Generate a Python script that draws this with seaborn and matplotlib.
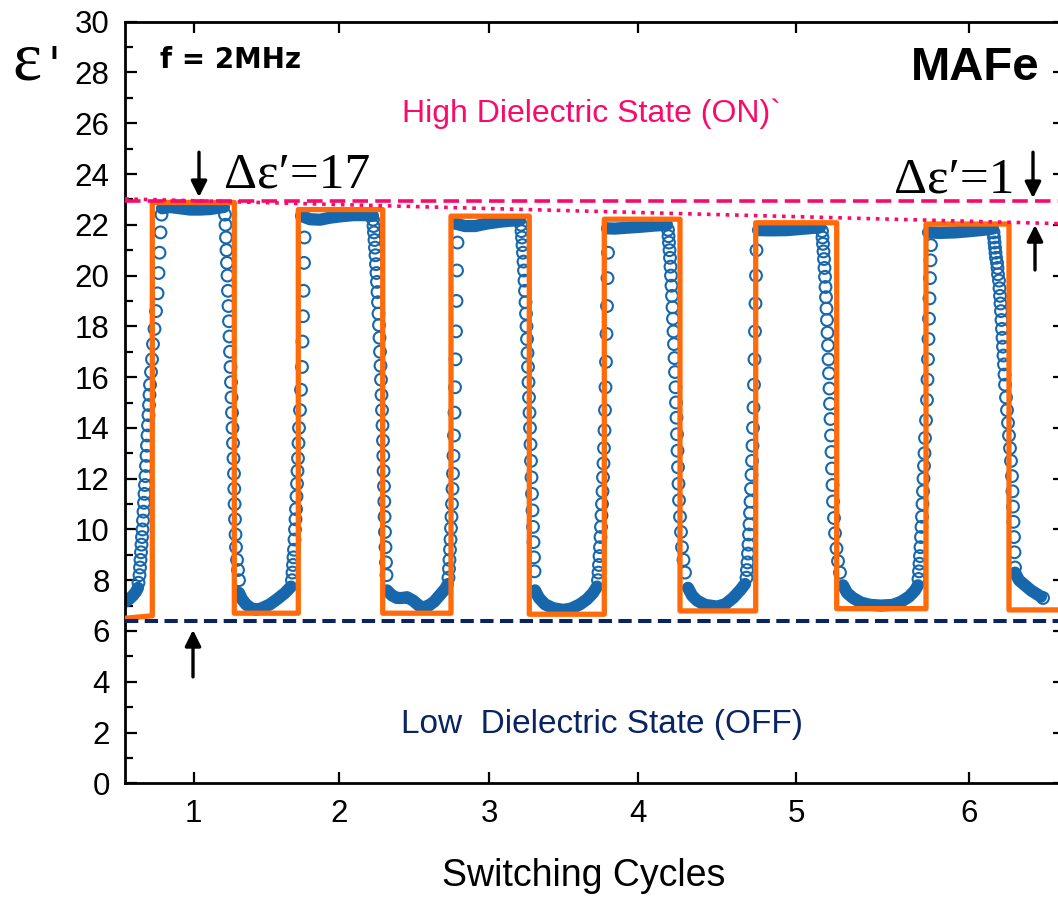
import numpy as np
import pandas as pd
import matplotlib
matplotlib.use("Agg")
import matplotlib.pyplot as plt
from matplotlib.ticker import MultipleLocator
import seaborn as sns

# ---------------- data ----------------
# time axis in arbitrary units; the cycle number sits at the middle of each ON pulse
cycle_labels = ["1", "2", "3", "4", "5", "6"]
cycle_centre_t = [68.6, 214.4, 364.2, 512.6, 671.2, 844.0]

# idealised square-wave (orange)
square_t = [0, 27.3, 27.3, 109.3, 109.3, 173.3, 173.3, 257.7, 257.7, 326, 326, 404.3, 404.3,
            479.3, 479.3, 555, 555, 630.7, 630.7, 711.7, 711.7, 801, 801, 884, 884, 940]
square_y = [6.5, 6.6, 22.88, 22.88, 6.70, 6.70, 22.6, 22.6, 6.70, 6.70, 22.34, 22.34, 6.66,
            6.66, 22.22, 22.22, 6.79, 6.79, 22.08, 22.08, 6.88, 6.88, 22.03, 22.03, 6.83, 6.83]

# reference levels
on_level_t, on_level_y = [0, 940], [22.95, 22.95]
drift_t, drift_y = [0, 940], [23.02, 22.04]
off_level_t, off_level_y = [0, 940], [6.40, 6.40]

# densely sampled stretches of the measured curve (plateaus / troughs)
start_t = [0, 4, 8, 11, 13]
start_y = [7.15, 7.25, 7.4, 7.55, 7.7]
top1_t = [37, 45, 55, 65, 75, 85, 95, 99]
top1_y = [22.65, 22.7, 22.65, 22.6, 22.6, 22.62, 22.68, 22.7]
trough1_t = [114, 117, 121, 126, 131, 137, 145, 152, 160, 166]
trough1_y = [7.5, 7.25, 7.05, 6.9, 6.83, 6.9, 7.05, 7.25, 7.5, 7.75]
top2_t = [176, 185, 195, 205, 215, 228, 240, 248]
top2_y = [22.35, 22.22, 22.2, 22.28, 22.33, 22.38, 22.38, 22.35]
trough2_t = [262, 267, 272, 277, 282, 288, 294, 297, 303, 309, 315, 320, 323]
trough2_y = [7.6, 7.4, 7.3, 7.3, 7.33, 7.2, 7.0, 6.93, 6.98, 7.15, 7.42, 7.65, 7.85]
top3_t = [330, 340, 350, 362, 375, 385, 395]
top3_y = [22.05, 21.95, 21.95, 22.05, 22.12, 22.16, 22.18]
trough3_t = [410, 414, 420, 428, 438, 446, 455, 462, 468, 472]
trough3_y = [7.6, 7.3, 7.05, 6.9, 6.83, 6.88, 7.05, 7.25, 7.5, 7.75]
top4_t = [482, 490, 500, 515, 530, 542]
top4_y = [21.86, 21.85, 21.88, 21.92, 21.97, 22.0]
trough4_t = [563, 567, 572, 580, 592, 600, 608, 615, 620]
trough4_y = [7.7, 7.4, 7.2, 7.03, 6.96, 7.05, 7.3, 7.6, 7.85]
top5_t = [633, 645, 662, 680, 695]
top5_y = [21.79, 21.78, 21.79, 21.85, 21.9]
trough5_t = [718, 722, 728, 736, 745, 756, 768, 776, 784, 790, 793]
trough5_y = [7.8, 7.5, 7.3, 7.12, 7.03, 7.0, 7.03, 7.15, 7.35, 7.6, 7.8]
top6_t = [803, 815, 830, 845, 858, 868]
top6_y = [21.7, 21.68, 21.7, 21.75, 21.8, 21.85]
tail_t = [890, 894, 900, 906, 912, 916]
tail_y = [8.3, 8.0, 7.8, 7.6, 7.45, 7.35]

# individually resolved points on the switching edges
rise1_t = [13.5, 14.5, 15, 15.5, 16, 16.5, 17, 17.5, 18, 18.5, 19, 19.5, 20, 20.5, 21, 21.5, 22,
           22.5, 23, 23.5, 24, 24.5, 25, 26, 27, 28, 29.5, 31, 32.5, 33.5, 34.5, 35.5, 36.5]
rise1_y = [7.9, 8.2, 8.5, 8.8, 9.1, 9.4, 9.7, 10.0, 10.35, 10.7, 11.05, 11.4, 11.75, 12.1, 12.5,
           12.9, 13.3, 13.7, 14.1, 14.5, 14.9, 15.3, 15.7, 16.2, 16.7, 17.3, 17.9, 18.6, 19.3,
           20.1, 20.9, 21.7, 22.4]
fall1_t = [100, 100.5, 101, 101.5, 102, 102.5, 103, 103.5, 104, 104.5, 105, 105.5, 106, 106.5,
           107, 107.5, 108, 108.5, 109, 109.3, 109.6, 110, 110.5, 111, 112, 113, 114]
fall1_y = [22.4, 22.0, 21.5, 21.0, 20.5, 20.0, 19.4, 18.8, 18.2, 17.6, 17.0, 16.4, 15.8, 15.2,
           14.6, 14.0, 13.4, 12.8, 12.2, 11.6, 11.0, 10.4, 9.8, 9.3, 8.8, 8.4, 8.0]
rise2_t = [167, 167.5, 168, 168.5, 169, 169.5, 170, 170.5, 171, 171.5, 172, 172.5, 173, 173.5,
           174, 175, 176, 177, 177.5, 178, 178.5, 179, 179.5]
rise2_y = [8.0, 8.3, 8.6, 8.9, 9.2, 9.6, 10.0, 10.4, 10.8, 11.3, 11.8, 12.3, 12.8, 13.4, 14.0,
           14.7, 15.5, 16.4, 17.4, 18.4, 19.4, 20.5, 21.5]
fall2_t = [248, 248.5, 249, 249.5, 250, 250.5, 251, 251.5, 252, 252.5, 253, 253.5, 254, 254.5,
           255, 255.5, 256, 256.5, 257, 257.5, 258, 258.3, 258.6, 259, 259.3, 259.6, 260, 260.5,
           261, 261.5]
fall2_y = [22.2, 21.95, 21.7, 21.4, 21.1, 20.8, 20.45, 20.1, 19.75, 19.35, 18.95, 18.5, 18.05,
           17.55, 17.0, 16.45, 15.9, 15.3, 14.7, 14.1, 13.5, 12.9, 12.3, 11.7, 11.1, 10.5, 9.9,
           9.3, 8.7, 8.2]
rise3_t = [323.5, 324, 324.5, 325, 325.5, 326, 326.5, 327, 327.5, 328, 328.5, 329, 329.5, 330,
           330.5, 331, 331.5, 332, 332.5]
rise3_y = [8.1, 8.45, 8.8, 9.2, 9.6, 10.05, 10.5, 11.0, 11.6, 12.2, 12.9, 13.7, 14.6, 15.6, 16.7,
           17.8, 19.0, 20.2, 21.3]
fall3_t = [396, 396.5, 397, 397.5, 398, 398.5, 399, 399.5, 400, 400.5, 401, 401.5, 402, 402.5,
           403, 403.5, 404, 404.5, 405, 405.5, 406, 406.5, 407, 407.5, 408, 408.5, 409, 409.5]
fall3_y = [22.0, 21.75, 21.5, 21.2, 20.9, 20.55, 20.2, 19.8, 19.4, 18.95, 18.5, 18.0, 17.5, 16.95,
           16.4, 15.8, 15.2, 14.6, 14.0, 13.35, 12.7, 12.05, 11.4, 10.75, 10.1, 9.5, 8.9, 8.35]
rise4_t = [473, 473.5, 474, 474.5, 475, 475.5, 476, 476.5, 477, 477.5, 478, 478.5, 479, 479.5,
           480, 480.5, 481, 481.5, 482, 482.5, 483]
rise4_y = [8.0, 8.3, 8.6, 8.95, 9.3, 9.7, 10.1, 10.55, 11.0, 11.5, 12.05, 12.6, 13.2, 13.9, 14.7,
           15.6, 16.6, 17.7, 18.8, 19.9, 20.9]
fall4_t = [543, 543.5, 544, 544.5, 545, 545.5, 546, 546.5, 547, 547.5, 548, 548.5, 549, 549.5,
           550, 550.5, 551, 551.5, 552, 552.5, 553, 553.5, 554, 555, 556, 557, 558.5, 560]
fall4_y = [21.8, 21.55, 21.3, 21.0, 20.7, 20.35, 20.0, 19.6, 19.2, 18.75, 18.3, 17.8, 17.3, 16.75,
           16.2, 15.6, 15.0, 14.4, 13.75, 13.1, 12.45, 11.8, 11.15, 10.5, 9.9, 9.3, 8.8, 8.3]
rise5_t = [621.5, 622, 622.5, 623, 623.5, 624, 624.5, 625, 625.5, 626, 626.5, 627, 627.5, 628,
           628.5, 629, 629.5, 630, 630.5, 631, 631.5]
rise5_y = [8.1, 8.4, 8.7, 9.05, 9.4, 9.8, 10.2, 10.65, 11.1, 11.6, 12.15, 12.7, 13.3, 14.0, 14.8,
           15.7, 16.7, 17.8, 18.9, 20.0, 21.0]
fall5_t = [697, 697.5, 698, 698.5, 699, 699.5, 700, 700.5, 701, 701.5, 702, 702.5, 703, 703.5,
           704, 704.5, 705, 705.5, 706, 706.5, 707, 707.5, 708, 709, 710, 711.5, 713, 715]
fall5_y = [21.75, 21.5, 21.25, 20.95, 20.65, 20.3, 19.95, 19.55, 19.15, 18.7, 18.25, 17.75, 17.25,
           16.7, 16.15, 15.55, 14.95, 14.35, 13.7, 13.05, 12.4, 11.75, 11.1, 10.45, 9.85, 9.25,
           8.75, 8.3]
rise6_t = [793.5, 794, 794.5, 795, 795.5, 796, 796.5, 797, 797.5, 798, 798.5, 799, 799.5, 800,
           801, 802, 802.5, 803, 803.5, 804, 804.5, 805, 805.5, 806]
rise6_y = [8.05, 8.35, 8.65, 8.95, 9.3, 9.7, 10.1, 10.5, 11.0, 11.5, 12.0, 12.5, 13.0, 13.6, 14.3,
           15.1, 15.9, 16.7, 17.5, 18.3, 19.1, 19.9, 20.6, 21.2]
fall6_t = [868.5, 869, 869.5, 870, 870.5, 871, 872, 872.5, 873, 874, 874.5, 875, 875.5, 876,
           876.5, 877, 877.5, 878, 878.5, 879, 879.5, 880, 881, 882, 883, 884, 885, 886, 887,
           887.5, 888, 888.5, 889, 889.5, 890]
fall6_y = [21.7, 21.5, 21.3, 21.1, 20.9, 20.7, 20.5, 20.3, 20.05, 19.8, 19.5, 19.2, 18.9, 18.6,
           18.25, 17.9, 17.55, 17.2, 16.85, 16.5, 16.1, 15.7, 15.2, 14.7, 14.2, 13.7, 13.2, 12.7,
           12.1, 11.5, 10.9, 10.3, 9.7, 9.1, 8.5]
last_t, last_y = [918], [7.3]

# ---------------- assemble ----------------
bands = [(start_t, start_y), (top1_t, top1_y), (trough1_t, trough1_y), (top2_t, top2_y),
         (trough2_t, trough2_y), (top3_t, top3_y), (trough3_t, trough3_y), (top4_t, top4_y),
         (trough4_t, trough4_y), (top5_t, top5_y), (trough5_t, trough5_y), (top6_t, top6_y),
         (tail_t, tail_y)]
edges = [(rise1_t, rise1_y), (fall1_t, fall1_y), (rise2_t, rise2_y), (fall2_t, fall2_y),
         (rise3_t, rise3_y), (fall3_t, fall3_y), (rise4_t, rise4_y), (fall4_t, fall4_y),
         (rise5_t, rise5_y), (fall5_t, fall5_y), (rise6_t, rise6_y), (fall6_t, fall6_y),
         (last_t, last_y)]
for t, y in bands + edges:
    assert len(t) == len(y)

band_df = pd.concat([pd.DataFrame({"t": t, "eps": y, "seg": i}) for i, (t, y) in enumerate(bands)],
                    ignore_index=True)
edge_df = pd.concat([pd.DataFrame({"t": t, "eps": y}) for t, y in edges], ignore_index=True)
square_df = pd.DataFrame({"t": square_t, "eps": square_y})

BLUE = "#1767ad"
ORANGE = "#ff6a0a"
PINK = "#fa0a6a"
NAVY = "#0a2463"

# ---------------- figure ----------------
sns.set_style("ticks")
plt.rcParams["font.family"] = ["Liberation Sans", "DejaVu Sans"]
plt.rcParams["text.color"] = "black"
plt.rcParams["axes.labelcolor"] = "black"
plt.rcParams["xtick.color"] = "black"
plt.rcParams["ytick.color"] = "black"

fig = plt.figure(figsize=(10.58, 8.98), dpi=100)
ax = fig.add_axes([125 / 1058, 114.7 / 898, 940 / 1058, 761.6 / 898])

sns.lineplot(data=band_df, x="t", y="eps", units="seg", estimator=None, sort=False,
             color=BLUE, lw=8.8, solid_capstyle="round", ax=ax, legend=False, zorder=2)
sns.scatterplot(data=edge_df, x="t", y="eps", marker="o", s=72, color=BLUE,
                facecolor="none", edgecolor=BLUE, linewidth=1.5, ax=ax, legend=False, zorder=2)
sns.lineplot(data=square_df, x="t", y="eps", estimator=None, sort=False, color=ORANGE,
             lw=3.8, ax=ax, zorder=3)
sns.lineplot(x=on_level_t, y=on_level_y, color=PINK, lw=2.6, ax=ax, zorder=4,
             linestyle=(0, (4.3, 2.0)))
sns.lineplot(x=drift_t, y=drift_y, color=PINK, lw=2.6, ax=ax, zorder=4,
             linestyle=(0, (1.0, 1.6)))
sns.lineplot(x=off_level_t, y=off_level_y, color=NAVY, lw=2.9, ax=ax, zorder=4,
             linestyle=(0, (3.3, 1.6)))

ax.set_xlim(0, 940)
ax.set_ylim(0, 30)
ax.set_xticks(cycle_centre_t)
ax.set_xticklabels(cycle_labels)
ax.yaxis.set_major_locator(MultipleLocator(2))
ax.yaxis.set_minor_locator(MultipleLocator(1))
ax.tick_params(axis="y", which="major", direction="in", length=8.6, width=1.6,
               labelsize=22.5, pad=11, left=True, right=True, colors="black")
ax.tick_params(axis="y", which="minor", direction="in", length=5.8, width=1.6,
               left=True, right=False, colors="black")
ax.tick_params(axis="x", which="major", direction="in", length=7.6, width=1.6,
               labelsize=22.5, pad=11, top=True, bottom=True, colors="black")
for s in ax.spines.values():
    s.set_linewidth(2.0)
    s.set_color("black")
    s.set_visible(True)

ax.set_ylabel("")
ax.set_xlabel("Switching Cycles", fontsize=27, color="black")
ax.xaxis.set_label_coords(0.4877, -0.098)

# annotations
ax.text(35, 28.17, "f = 2MHz", fontsize=20, fontweight="bold", family="DejaVu Sans",
        va="baseline", color="black")
ax.text(914, 27.7, "MAFe", fontsize=34, fontweight="bold", ha="right", va="baseline",
        color="black")
ax.text(466, 26.04, "High Dielectric State (ON)`", color=PINK, fontsize=23,
        ha="center", va="baseline")
ax.text(477, 1.98, "Low  Dielectric State (OFF)", color=NAVY, fontsize=24,
        ha="center", va="baseline")
serif = ["Liberation Serif", "DejaVu Serif"]
ax.text(99, 23.45, "\u0394\u03b5\u2032=17", family=serif, fontsize=37, va="baseline",
        color="black")
ax.text(890, 23.29, "\u0394\u03b5\u2032=1", family=serif, fontsize=37, va="baseline",
        ha="right", color="black")
fig.text(12 / 1058, 1 - 80 / 898, "\u03b5", family=serif, fontsize=50, va="baseline",
         color="black")
fig.text(47 / 1058, 1 - 80 / 898, "'", family="DejaVu Sans", fontsize=34, va="baseline",
         color="black")

arrow = dict(arrowstyle="-|>", color="black", lw=2.4, mutation_scale=24, shrinkA=0, shrinkB=0)
ax.annotate("", xy=(74, 23.09), xytext=(74, 24.86), arrowprops=arrow)
ax.annotate("", xy=(68, 6.04), xytext=(68, 4.19), arrowprops=arrow)
ax.annotate("", xy=(908, 23.05), xytext=(908, 24.86), arrowprops=arrow)
ax.annotate("", xy=(910, 21.99), xytext=(910, 20.22), arrowprops=arrow)

fig.savefig("out.png", dpi=100)
